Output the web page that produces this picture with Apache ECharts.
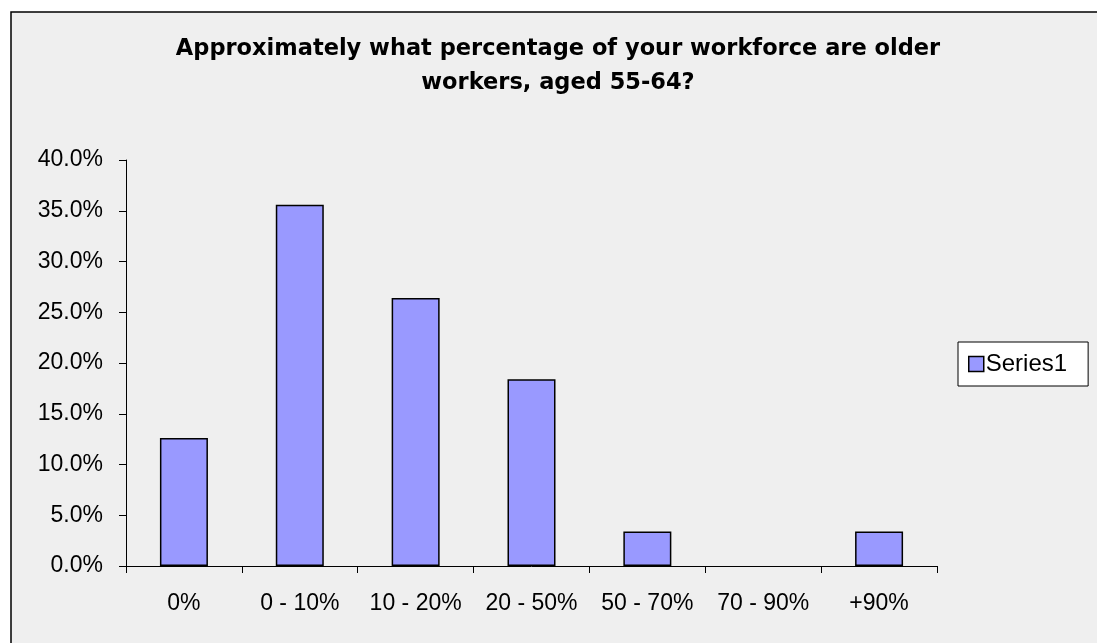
<!DOCTYPE html>
<html>
<head>
<meta charset="utf-8">
<script src="https://cdn.jsdelivr.net/npm/echarts@6/dist/echarts.min.js"></script>
<style>
html,body{margin:0;padding:0;background:#fff;}
#chart{width:1097px;height:643px;}
</style>
</head>
<body>
<div id="chart"></div>
<script>
const titleText = 'Approximately what percentage of your workforce are older\nworkers, aged 55-64?';
const categories = ['0%', '0 - 10%', '10 - 20%', '20 - 50%', '50 - 70%', '70 - 90%', '+90%'];
const series1 = [0.126, 0.356, 0.264, 0.184, 0.034, 0, 0.034];
const seriesName = 'Series1';

const chart = echarts.init(document.getElementById('chart'));
chart.setOption({
  backgroundColor: '#ffffff',
  animation: false,
  graphic: [{
    type: 'rect', z: -10, silent: true,
    shape: {x: 11, y: 12, width: 1100, height: 650},
    style: {fill: '#efefef', stroke: '#000', lineWidth: 1.5}
  }],
  title: {
    text: titleText,
    left: 553, top: 27, textAlign: 'center',
    textStyle: {fontFamily: 'DejaVu Sans', fontWeight: 'bold', fontSize: 22.5, color: '#000', lineHeight: 34}
  },
  legend: {
    data: [seriesName],
    orient: 'vertical',
    left: 958, top: 342,
    backgroundColor: '#ffffff',
    borderColor: '#000', borderWidth: 1,
    padding: [10, 21, 10, 10],
    icon: 'rect', itemWidth: 15, itemHeight: 15, itemGap: 0,
    itemStyle: {borderColor: '#000', borderWidth: 1.5},
    textStyle: {fontFamily: 'Liberation Sans, Arial', fontSize: 24, color: '#000', padding: [0, 0, 0, -3]}
  },
  grid: {left: 126, right: 160, top: 160, bottom: 77},
  xAxis: {
    type: 'category', data: categories,
    axisLine: {lineStyle: {color: '#000', width: 1}},
    axisTick: {show: true, interval: 0, length: 7, lineStyle: {color: '#000'}},
    axisLabel: {interval: 0, fontFamily: 'Liberation Sans, Arial', fontSize: 23, color: '#000', margin: 26}
  },
  yAxis: {
    type: 'value', min: 0, max: 0.4, interval: 0.05,
    axisLine: {show: true, lineStyle: {color: '#000', width: 1}},
    axisTick: {show: true, length: 7, lineStyle: {color: '#000'}},
    splitLine: {show: false},
    axisLabel: {fontFamily: 'Liberation Sans, Arial', fontSize: 23, color: '#000', margin: 23,
      formatter: v => (v * 100).toFixed(1) + '%'}
  },
  series: [{
    name: seriesName, type: 'bar', data: series1.map(v => v === 0 ? '-' : v), barWidth: 48,
    itemStyle: {color: '#9999ff', borderColor: '#000', borderWidth: 1.5}
  }]
});
</script>
</body>
</html>
